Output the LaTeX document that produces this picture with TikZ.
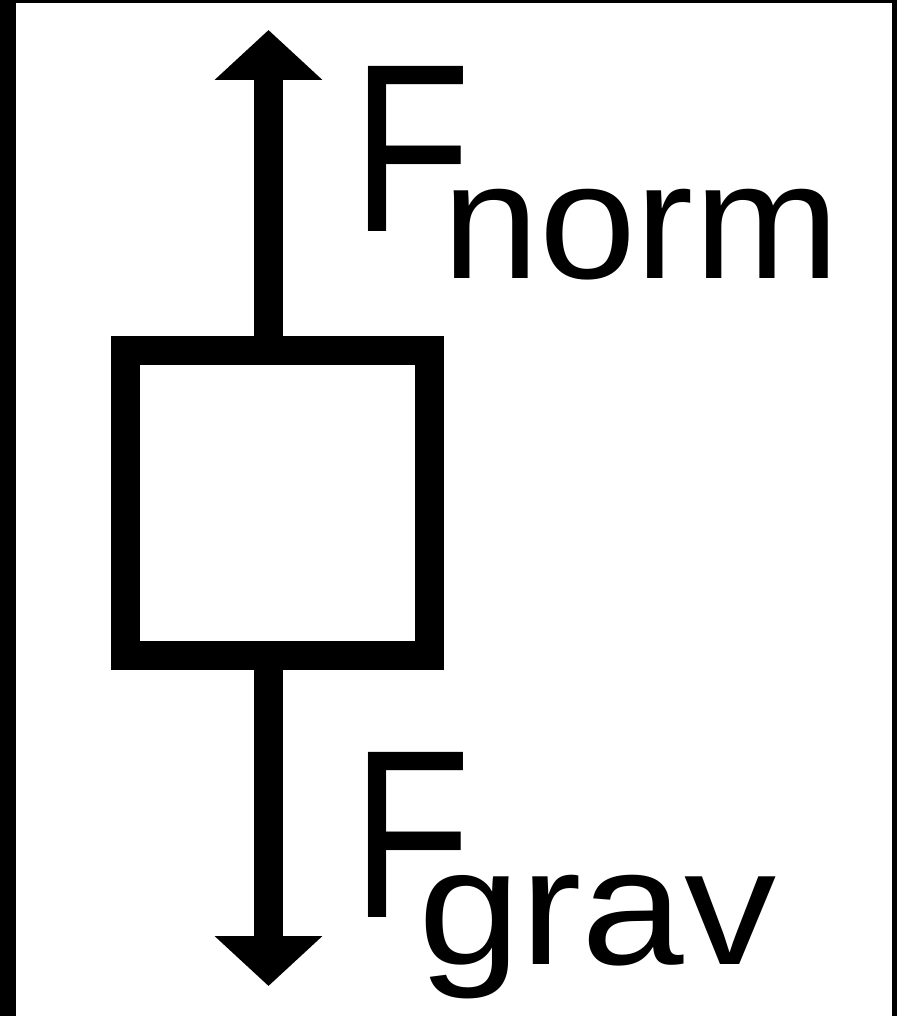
\documentclass[tikz,border=0pt]{standalone}
\usepackage{fontspec}
\setmainfont{Liberation Sans}
\usepackage{tikz}
\usetikzlibrary{arrows.meta, positioning, calc}

% F with a lowered, stretched subscript: {text}{kern}{h-stretch}
\newcommand{\forcelabel}[3]{\scalebox{0.81}[1]{F}\kern#2\raisebox{-23.5pt}{\scalebox{#3}[1]{\fontsize{83}{83}\selectfont #1}}}

\begin{document}
\begin{tikzpicture}[
    x=0.5pt, y=-0.5pt,
    frame/.style={fill=black, draw=none},
    block/.style={draw=black, line width=14.5pt, minimum width=152pt, minimum height=152.5pt, inner sep=0pt, fill=white},
    force/.style={-{Triangle[length=25pt, width=52.5pt]}, line width=14.5pt},
    lbl/.style={anchor=base west, inner sep=0pt, font=\fontsize{120}{120}\selectfont},
]
\useasboundingbox (0,0) rectangle (897,1016);
% frame (left, top, right)
\fill[frame] (0,0) rectangle (16,1016);
\fill[frame] (0,0) rectangle (897,3);
\fill[frame] (892,0) rectangle (897,1016);

\node[block] (block) at (277.5,503) {};

\coordinate (normtip) at (268.5,30);
\coordinate (gravtip) at (268.5,986);

\draw[force] (normtip |- block.north) -- (normtip);
\draw[force] (gravtip |- block.south) -- (gravtip);

\node[lbl] (fnorm) at (352,232) {\forcelabel{norm}{-14.5pt}{1.05}};
\node[lbl] (fgrav) at (352,917) {\forcelabel{grav}{-26.5pt}{1.11}};
\end{tikzpicture}
\end{document}
